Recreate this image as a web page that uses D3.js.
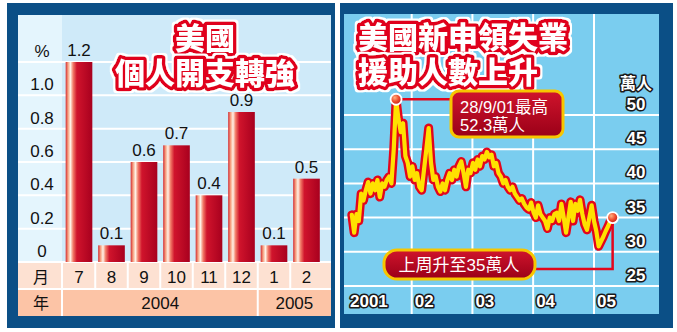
<!DOCTYPE html>
<html><head><meta charset="utf-8">
<script src="https://cdn.jsdelivr.net/npm/d3@7"></script>
<style>body{margin:0;background:#fff}svg{display:block}</style>
</head><body><svg id="c" width="677" height="332"></svg>
<script>
// ---------- DATA ----------
const months = ["7","8","9","10","11","12","1","2"];
const spending = [1.2,0.1,0.6,0.7,0.4,0.9,0.1,0.5];
const yearGroups = [{label:"2004", from:"7"},{label:"2005", from:"1"}];
const spendTicks = [0,0.2,0.4,0.6,0.8,1.0,1.2];

const claimsStart = "2001-01-06";   // fortnightly readings
const claims = [35.4,32.8,35.5,34.5,38.5,37.5,39,40.2,38.5,40,39,40.5,38,40,39.5,40.5,41,40,45,52.3,
  49.5,47.5,48.8,44,43,41,42.5,40.5,41.5,39.5,39,42,45,48.1,43,40.5,41,39.5,38.8,40,
  39,40.5,41.5,40.5,42,41,42.5,43.2,41.5,39.5,42,41.5,43,42,43.5,42.5,44,43.5,44.6,43.8,
  44.2,42.5,43,41.5,41,40,40.5,39.5,39,39.5,38.5,38,37.5,37.8,37,36.5,36.2,37.2,35.8,35,
  36.8,35.5,35,34.5,33.4,35,34.5,35.5,35.7,34.5,37,35,32.8,35,37.3,34.5,37,36,37.6,35.5,
  34,33.2,35,36.8,34.5,33,30.8,31.5,32.2,33,33.7,34.5,35];
const claimTicks = [25,30,35,40,45,50];
const yearTicks = ["2001","2002","2003","2004","2005"];
const yearTickLabels = ["2001","02","03","04","05"];

const svg = d3.select("#c");
const defs = svg.append("defs");
const CJK = "'Noto Sans CJK TC','Noto Sans CJK SC',sans-serif";
const LAT = "'Liberation Sans',Arial,'Noto Sans CJK TC',sans-serif";

// gradients
const bg = defs.append("linearGradient").attr("id","barG").attr("x1",0).attr("x2",1).attr("y1",0).attr("y2",0);
[[0,"#d42a30"],[0.09,"#f6a080"],[0.18,"#fff2e6"],[0.28,"#f27a66"],[0.42,"#d0142c"],[1,"#a8001e"]]
  .forEach(([o,c])=>bg.append("stop").attr("offset",o).attr("stop-color",c));
const boxG = defs.append("linearGradient").attr("id","boxG").attr("x1",0).attr("x2",0).attr("y1",0).attr("y2",1);
[[0,"#d0142c"],[1,"#9a0018"]].forEach(([o,c])=>boxG.append("stop").attr("offset",o).attr("stop-color",c));
const dotG = defs.append("radialGradient").attr("id","dotG").attr("cx",0.38).attr("cy",0.35).attr("r",0.7);
[[0,"#ffb080"],[0.5,"#f05030"],[1,"#c01818"]].forEach(([o,c])=>dotG.append("stop").attr("offset",o).attr("stop-color",c));
// white halo filter for titles
const halo = defs.append("filter").attr("id","halo").attr("x","-10%").attr("y","-30%").attr("width","120%").attr("height","160%");
halo.append("feMorphology").attr("in","SourceAlpha").attr("operator","dilate").attr("radius",1.6).attr("result","d");
halo.append("feFlood").attr("flood-color","#ffffff").attr("result","w");
halo.append("feComposite").attr("in","w").attr("in2","d").attr("operator","in").attr("result","h");
const hm = halo.append("feMerge");
hm.append("feMergeNode").attr("in","h");
hm.append("feMergeNode").attr("in","SourceGraphic");

function outlinedTitle(g, lines, x, anchor, size){
  lines.forEach(([t,y])=>{
    g.append("text").attr("x",x).attr("y",y).attr("text-anchor",anchor)
      .attr("font-family",CJK).attr("font-weight",900).attr("font-size",size)
      .attr("fill","#fff").attr("stroke","#e0061e").attr("stroke-width",7).attr("stroke-linejoin","round")
      .attr("paint-order","stroke").attr("filter","url(#halo)").text(t);
  });
}

// ---------- LEFT PANEL ----------
const L = svg.append("g");
L.append("rect").attr("x",7).attr("y",3).attr("width",328).attr("height",325).attr("fill","#0b4f86");
L.append("rect").attr("x",18).attr("y",15).attr("width",313).attr("height",247).attr("fill","#cfeaf9");
L.append("rect").attr("x",18).attr("y",15).attr("width",44).attr("height",247).attr("fill","#e4f5fd");

const yL = d3.scaleLinear().domain([0,1.2]).range([262,62]);
const xL = d3.scaleBand().domain(months).range([62.75,322.75]).paddingInner(0.18).paddingOuter(0.09);
const step = xL.step();
const cellStart = m => xL(m) - step*0.09;

L.selectAll(".gl").data(spendTicks).join("line")
  .attr("x1",18).attr("x2",331).attr("y1",d=>yL(d)).attr("y2",d=>yL(d))
  .attr("stroke","#fff").attr("stroke-width",2);
L.selectAll(".yl").data(spendTicks).join("text")
  .attr("x",42).attr("y",d=>yL(d)-5).attr("text-anchor","middle")
  .attr("font-family",LAT).attr("font-size",17).attr("fill","#111")
  .text(d=>d===1.2?"%":(d===0?"0":d.toFixed(1)));

outlinedTitle(L,[["美國",49],["個人開支轉強",84]],205,"middle",30);

L.selectAll(".bar").data(spending).join("rect")
  .attr("x",(d,i)=>xL(months[i])).attr("width",xL.bandwidth())
  .attr("y",d=>yL(d)).attr("height",d=>yL(0)-yL(d)).attr("fill","url(#barG)");
L.selectAll(".bv").data(spending).join("text")
  .attr("x",(d,i)=>xL(months[i])+xL.bandwidth()/2).attr("y",d=>yL(d)-6)
  .attr("text-anchor","middle").attr("font-family",LAT).attr("font-size",17).attr("fill","#111")
  .text(d=>d.toFixed(1));

// category rows
L.append("rect").attr("x",18).attr("y",263).attr("width",313).attr("height",25).attr("fill","#fde1d2");
L.append("rect").attr("x",18).attr("y",290).attr("width",313).attr("height",26).attr("fill","#fcc4a6");
L.append("line").attr("x1",18).attr("x2",331).attr("y1",289).attr("y2",289).attr("stroke","#fff").attr("stroke-width",2);
L.selectAll(".ms").data([62, ...months.slice(1).map(cellStart)]).join("line")
  .attr("x1",d=>d).attr("x2",d=>d).attr("y1",263).attr("y2",288).attr("stroke","#fff").attr("stroke-width",2);
L.selectAll(".ys").data([62, cellStart("1")]).join("line")
  .attr("x1",d=>d).attr("x2",d=>d).attr("y1",290).attr("y2",316).attr("stroke","#fff").attr("stroke-width",2);
L.append("text").attr("x",41).attr("y",283).attr("text-anchor","middle").attr("font-family",CJK)
  .attr("font-size",16).attr("fill","#111").text("月");
L.append("text").attr("x",41).attr("y",309).attr("text-anchor","middle").attr("font-family",CJK)
  .attr("font-size",16).attr("fill","#111").text("年");
L.selectAll(".ml").data(months).join("text")
  .attr("x",m=>xL(m)+xL.bandwidth()/2).attr("y",283).attr("text-anchor","middle")
  .attr("font-family",LAT).attr("font-size",17).attr("fill","#111").text(m=>m);
L.selectAll(".yg").data(yearGroups).join("text")
  .attr("x",(d,i)=>{const a=cellStart(d.from); const b=i<yearGroups.length-1?cellStart(yearGroups[i+1].from):331; return (a+b)/2;})
  .attr("y",309).attr("text-anchor","middle").attr("font-family",LAT).attr("font-size",17).attr("fill","#111")
  .text(d=>d.label);

// ---------- RIGHT PANEL ----------
const R = svg.append("g");
R.append("rect").attr("x",340).attr("y",3).attr("width",333).attr("height",325).attr("fill","#0b4f86");
R.append("rect").attr("x",344).attr("y",14).attr("width",315).attr("height",300).attr("fill","#7acdef");

const parse = d3.timeParse("%Y-%m-%d");
const t0 = parse(claimsStart);
const pts = claims.map((v,i)=>({date:d3.timeDay.offset(t0,14*i), v}));
const xR = d3.scaleTime().domain([parse("2001-01-01"),parse("2005-01-01")]).range([351,594]);
const yR = d3.scaleLinear().domain([25,50]).range([286,115]);
const yrDates = yearTicks.map(y=>parse(y+"-01-01"));

R.selectAll(".hg").data(claimTicks).join("line")
  .attr("x1",344).attr("x2",659).attr("y1",d=>yR(d)).attr("y2",d=>yR(d))
  .attr("stroke","#fff").attr("stroke-width",2);
R.selectAll(".vg").data(yrDates.slice(1)).join("line")
  .attr("x1",d=>xR(d)).attr("x2",d=>xR(d)).attr("y1",14).attr("y2",314)
  .attr("stroke","#fff").attr("stroke-width",2);

function strokedNum(g){
  return g.attr("font-family",LAT).attr("font-weight","bold").attr("font-size",17)
    .attr("fill","#fff").attr("stroke","#1a1a1a").attr("stroke-width",3.2)
    .attr("stroke-linejoin","round").attr("paint-order","stroke");
}
strokedNum(R.selectAll(".rl").data(claimTicks).join("text")
  .attr("x",636).attr("y",d=>yR(d)-5).attr("text-anchor","middle").text(d=>d));
strokedNum(R.append("text").attr("x",636).attr("y",89).attr("text-anchor","middle").text("萬人"))
  .attr("font-family",CJK).attr("font-size",16);
strokedNum(R.selectAll(".xl").data(yrDates).join("text")
  .attr("x",(d,i)=>xR(d)+(i===0?-1:3)).attr("y",307).attr("text-anchor","start")
  .text((d,i)=>yearTickLabels[i]));

outlinedTitle(R,[["美國新申領失業",48],["援助人數上升",83]],358,"start",30);

const line = d3.line().x(d=>xR(d.date)).y(d=>yR(d.v));
R.append("path").datum(pts).attr("d",line).attr("fill","none")
  .attr("stroke","#e3061c").attr("stroke-width",9).attr("stroke-linejoin","round").attr("stroke-linecap","round");
R.append("path").datum(pts).attr("d",line).attr("fill","none")
  .attr("stroke","#ffe100").attr("stroke-width",4.2).attr("stroke-linejoin","round").attr("stroke-linecap","round");

// annotations
const peak = pts.reduce((a,b)=>b.v>a.v?b:a);
const last = pts[pts.length-1];
const px = xR(peak.date), py = yR(peak.v);
const lx = xR(last.date), ly = yR(last.v);

R.append("line").attr("x1",px).attr("x2",452).attr("y1",py).attr("y2",py).attr("stroke","#e3061c").attr("stroke-width",2.5);
R.append("rect").attr("x",451).attr("y",91).attr("width",112).attr("height",46).attr("rx",8)
  .attr("fill","url(#boxG)").attr("stroke","#f7c600").attr("stroke-width",3);
R.append("text").attr("x",460).attr("y",113).attr("font-family",LAT).attr("font-size",16.5).attr("fill","#fff").text("28/9/01最高");
R.append("text").attr("x",460).attr("y",131).attr("font-family",LAT).attr("font-size",16.5).attr("fill","#fff").text(peak.v+"萬人");

R.append("path").attr("d",`M${lx},${ly} V269 H533`).attr("fill","none").attr("stroke","#e3061c").attr("stroke-width",2.5);
R.append("rect").attr("x",384).attr("y",250).attr("width",151).attr("height",29).attr("rx",13)
  .attr("fill","url(#boxG)").attr("stroke","#f7c600").attr("stroke-width",3);
R.append("text").attr("x",459).attr("y",271).attr("text-anchor","middle").attr("font-family",LAT)
  .attr("font-size",17).attr("fill","#fff").text("上周升至"+last.v+"萬人");

[[px,py],[lx,ly]].forEach(([x,y])=>{
  R.append("circle").attr("cx",x).attr("cy",y).attr("r",5.5).attr("fill","url(#dotG)")
    .attr("stroke","#fff").attr("stroke-width",1.8);
});
</script></body></html>
